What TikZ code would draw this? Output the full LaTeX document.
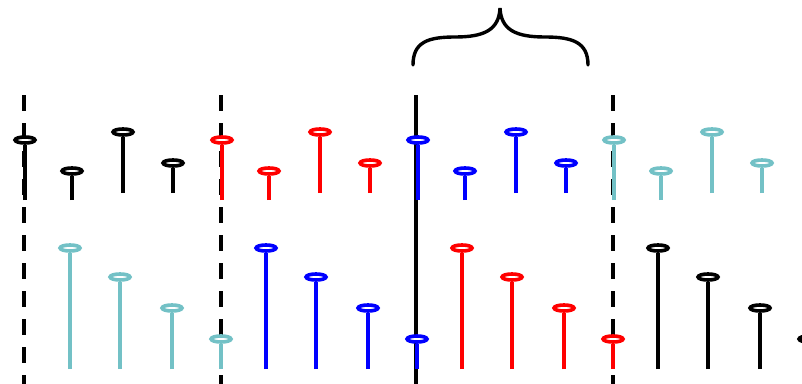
\documentclass[tikz,border=0pt]{standalone}
\usepackage{xcolor}
\definecolor{mlteal}{RGB}{115,193,198}
\usepackage{tikz}
\usetikzlibrary{shapes.geometric,calc}

\begin{document}
\begin{tikzpicture}[x=1pt, y=-1pt,
  stemhead/.style={ellipse, line width=3.6pt, fill=white, minimum width=20pt,
    minimum height=6pt, inner sep=0pt},
  stemline/.style={line width=4pt},
  divider/.style={line width=3.8pt, dash pattern=on 16pt off 12pt},
  bracepath/.style={line width=3.4pt, line cap=round}]

\useasboundingbox (0,0) rectangle (802,383);
\clip (0,0) rectangle (802,383);

% Separators
\coordinate (d1top) at (24,95);  \coordinate (d1bot) at (24,390);
\coordinate (d2top) at (221,95); \coordinate (d2bot) at (221,390);
\coordinate (d3top) at (613,95); \coordinate (d3bot) at (613,390);
\coordinate (ctop) at (416,95);  \coordinate (cbot) at (416,390);
\draw[divider] (d1top) -- (d1bot);
\draw[divider] (d2top) -- (d2bot);
\draw[divider] (d3top) -- (d3bot);
\draw[line width=3.8pt] (ctop) -- (cbot);

% Brace over the third block
\coordinate (brl) at (413,65);
\coordinate (brtip) at (500,8);
\coordinate (brr) at (588,65);
\draw[bracepath] (brl) .. controls (413,42) and (428,37) .. (455,37)
  .. controls (484,37) and (499,30) .. (brtip)
  .. controls (501,30) and (516,37) .. (545,37)
  .. controls (572,37) and (588,42) .. (brr);

% Upper row of stems
\foreach \col/\x [count=\g] in {black/24, red/221, blue/417, mlteal/613} {
  \foreach \dx/\y/\base [count=\i] in {1/140/200, 48/171/200, 99/132/193, 149/163/193} {
    \coordinate (upbase\g\i) at (\x+\dx,\base);
    \node[stemhead, draw=\col] (up\g\i) at (\x+\dx,\y) {};
    \draw[stemline, \col] (upbase\g\i) -- (up\g\i.south);
  }
}

% Lower row of stems
\foreach \col/\x [count=\g] in {mlteal/24, blue/220, red/416, black/612} {
  \foreach \dx/\y [count=\i] in {46/248, 96/277, 148/308, 197/339} {
    \coordinate (lowbase\g\i) at (\x+\dx,369);
    \node[stemhead, draw=\col] (low\g\i) at (\x+\dx,\y) {};
    \draw[stemline, \col] (lowbase\g\i) -- (low\g\i.south);
  }
}

\end{tikzpicture}
\end{document}
